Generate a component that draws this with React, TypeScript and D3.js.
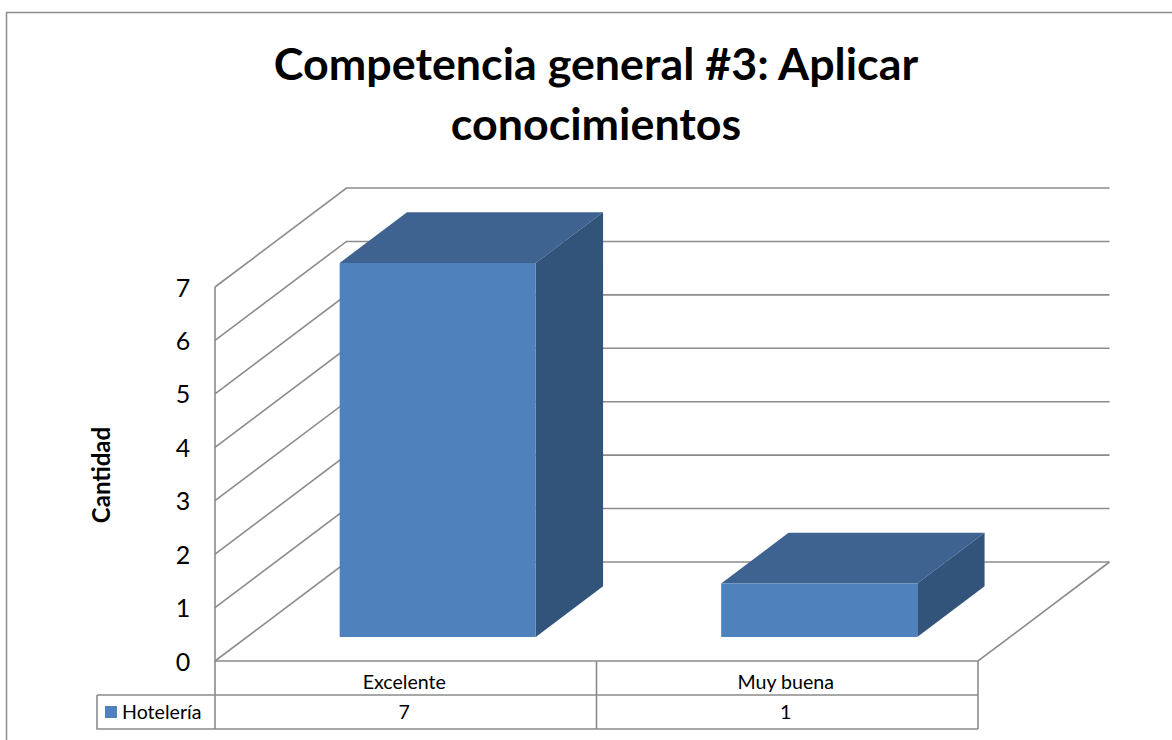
import React from "react";
import * as d3 from "d3";

const categories = ["Excelente", "Muy buena"];
const seriesName = "Hotelería";
const values = [7, 1];
const ticks = [0, 1, 2, 3, 4, 5, 6, 7];
const titleLines = ["Competencia general #3: Aplicar", "conocimientos"];
const yTitle = "Cantidad";

const FONT = "Lato, 'Open Sans', sans-serif";
const GRID = "#8C8C8C";
const FRONT = "#4F81BD";
const TOP = "#3E6390";
const SIDE = "#32547B";

const x0 = 215, x1 = 978, y0 = 661, y7 = 287;
const depthX = 131.5, depthY = 99;
const barNear = 0.243, barFar = 0.755;

export default function App() {
  const y = d3.scaleLinear().domain([0, 7]).range([y0, y7]);
  const x = d3.scaleBand<string>().domain(categories).range([x0, x1]).paddingInner(0).paddingOuter(0);
  const barW = x.bandwidth() * 0.514;
  const line = d3.line();
  const poly = (pts: [number, number][]) => line(pts) + "Z";
  const proj = (px: number, v: number, d: number): [number, number] => [px + depthX * d, y(v) - depthY * d];

  return (
    <svg width={1172} height={740} style={{ position: "absolute", left: 0, top: 0, background: "#fff" }} fontFamily={FONT}>
      <path d="M6.5,740V12.5H1172" fill="none" stroke={GRID} strokeWidth={1.5} />
      {titleLines.map((t, i) => (
        <text key={t} x={596} y={80 + i * 60} textAnchor="middle" fontSize={44.8} fontWeight={700} fill="#000">{t}</text>
      ))}
      {ticks.map((v) => (
        <g key={v}>
          <path d={line([proj(x0, v, 0), proj(x0, v, 1), [x1 + depthX, y(v) - depthY]]) ?? ""} fill="none" stroke={GRID} strokeWidth={1.6} />
          <text x={183} y={y(v) + 9.5} textAnchor="middle" fontSize={25} fill="#000">{v}</text>
        </g>
      ))}
      <path d={line([[x0, y7], [x0, y0], [x1, y0], proj(x1, 0, 1)]) ?? ""} fill="none" stroke={GRID} strokeWidth={1.6} />
      {categories.map((c, i) => {
        const left = (x(c) ?? 0) + (x.bandwidth() - barW) / 2;
        const right = left + barW;
        const v = values[i];
        return (
          <g key={c}>
            <path d={poly([proj(left, v, barNear), proj(left, v, barFar), proj(right, v, barFar), proj(right, v, barNear)])} fill={TOP} />
            <path d={poly([proj(right, 0, barNear), proj(right, 0, barFar), proj(right, v, barFar), proj(right, v, barNear)])} fill={SIDE} />
            <path d={poly([proj(left, 0, barNear), proj(right, 0, barNear), proj(right, v, barNear), proj(left, v, barNear)])} fill={FRONT} />
          </g>
        );
      })}
      <text transform="translate(110,475) rotate(-90)" textAnchor="middle" fontSize={24} fontWeight={700} fill="#000">{yTitle}</text>
      <path d={`M${x0},${y0}V729M${x1},${y0}V729M${x(categories[1])},${y0}V729M97,695H${x1}M97,695V729H${x1}`} fill="none" stroke={GRID} strokeWidth={1.6} />
      <rect x={105} y={706} width={12} height={12} fill={FRONT} />
      <text x={122} y={719} fontSize={19.6} fill="#000">{seriesName}</text>
      {categories.map((c, i) => (
        <g key={c} fontSize={19.6} fill="#000" textAnchor="middle">
          <text x={(x(c) ?? 0) + x.bandwidth() / 2 - 1.5} y={689}>{c}</text>
          <text x={(x(c) ?? 0) + x.bandwidth() / 2 - 1.5} y={719}>{values[i]}</text>
        </g>
      ))}
    </svg>
  );
}
